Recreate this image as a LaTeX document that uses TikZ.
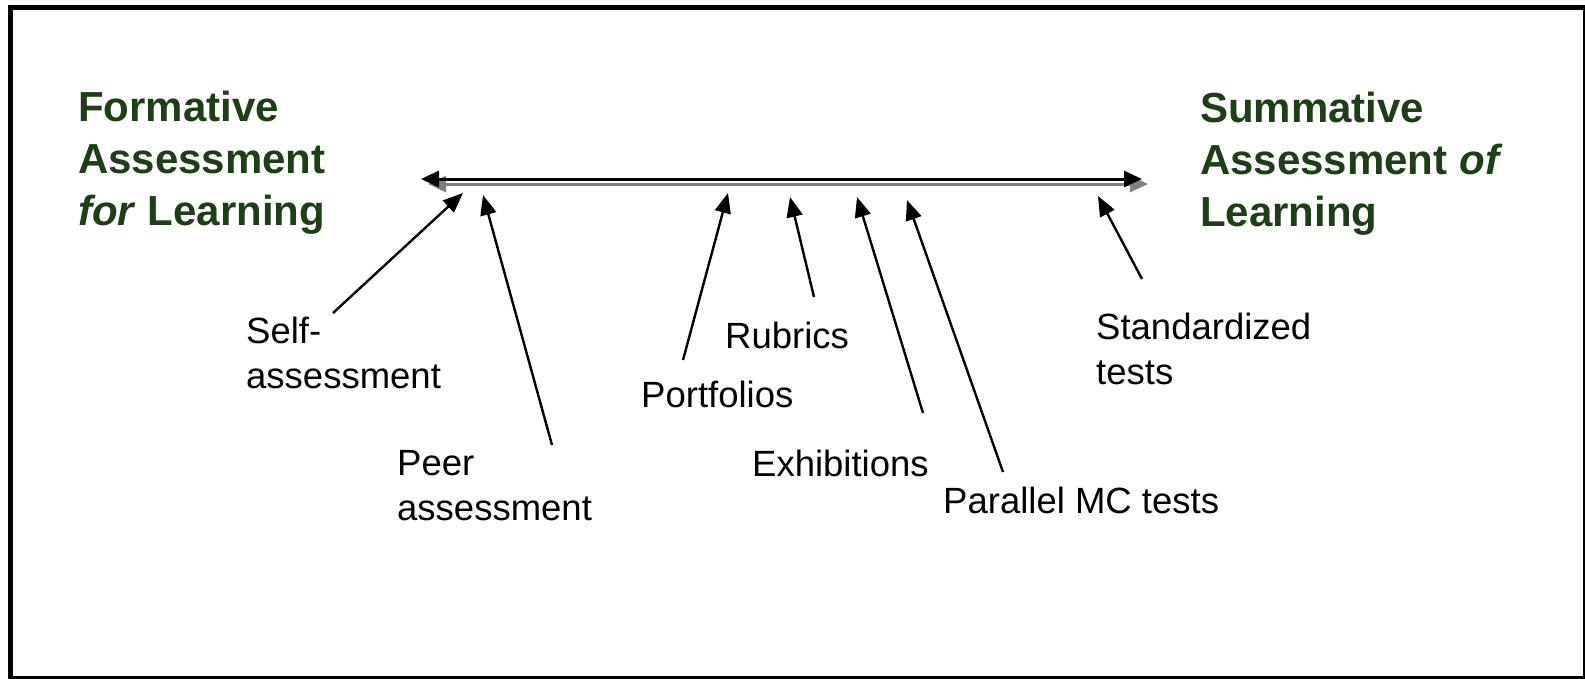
\documentclass[tikz,border=0pt]{standalone}
\usepackage{fontspec}
\setmainfont{Liberation Sans}
\usetikzlibrary{arrows.meta}
\definecolor{headgreen}{RGB}{30,62,24}
\definecolor{shadowgray}{RGB}{128,128,128}
\begin{document}
\begin{tikzpicture}[x=1pt,y=-1pt,
  heading/.style={anchor=base west,inner sep=0pt,align=left,text=headgreen,font=\fontsize{42}{52}\selectfont\bfseries},
  lbl/.style={anchor=base west,inner sep=0pt,align=left,font=\fontsize{36.5}{45}\selectfont},
  pointer/.style={line width=2.4pt,-{Triangle[length=20pt,width=16pt]}},
  axisline/.style={line width=3pt,{Triangle[length=18pt,width=16pt]}-{Triangle[length=18pt,width=16pt]}}]
\useasboundingbox (0,0) rectangle (1585,678);
\clip (0,0) rectangle (1585,678);
\fill[white] (0,0) rectangle (1585,678);
\draw[line width=5pt] (10.5,7.5) rectangle (1585.5,678.5);

% headings (anchor = baseline of last line)
\node[heading] (formative) at (78,225) {Formative\\Assessment\\\textit{for} Learning};
\node[heading] (summative) at (1200,226) {Summative\\Assessment \textit{of}\\Learning};

% axis
\coordinate (axL) at (421,179);
\coordinate (axR) at (1142,179);
\coordinate (shL) at (428,184);
\coordinate (shR) at (1148,184);
\draw[axisline,draw=shadowgray,fill=shadowgray] (shL) -- (shR);
\draw[axisline] (axL) -- (axR);

% labels (anchor = baseline of last line)
\node[lbl] (self) at (246,388) {Self-\\assessment};
\node[lbl] (peer) at (397,520) {Peer\\assessment};
\node[lbl] (portfolios) at (641,407) {Portfolios};
\node[lbl] (rubrics) at (725,348) {Rubrics};
\node[lbl] (exhibitions) at (752,476) {Exhibitions};
\node[lbl] (parallel) at (943,513) {Parallel MC tests};
\node[lbl] (standard) at (1096,384) {Standardized\\tests};

% pointer ends
\coordinate (selfT) at (333,313);  \coordinate (selfH) at (463,193);
\coordinate (peerT) at (552,445);  \coordinate (peerH) at (483,195);
\coordinate (portT) at (683,360);  \coordinate (portH) at (728,193);
\coordinate (rubT) at (814,297);   \coordinate (rubH) at (790,197);
\coordinate (exhT) at (923,413);   \coordinate (exhH) at (857,197);
\coordinate (parT) at (1003,472);  \coordinate (parH) at (907,200);
\coordinate (stdT) at (1142,279);  \coordinate (stdH) at (1098,196);

\draw[pointer] (selfT) -- (selfH);
\draw[pointer] (peerT) -- (peerH);
\draw[pointer] (portT) -- (portH);
\draw[pointer] (rubT) -- (rubH);
\draw[pointer] (exhT) -- (exhH);
\draw[pointer] (parT) -- (parH);
\draw[pointer] (stdT) -- (stdH);
\end{tikzpicture}
\end{document}
